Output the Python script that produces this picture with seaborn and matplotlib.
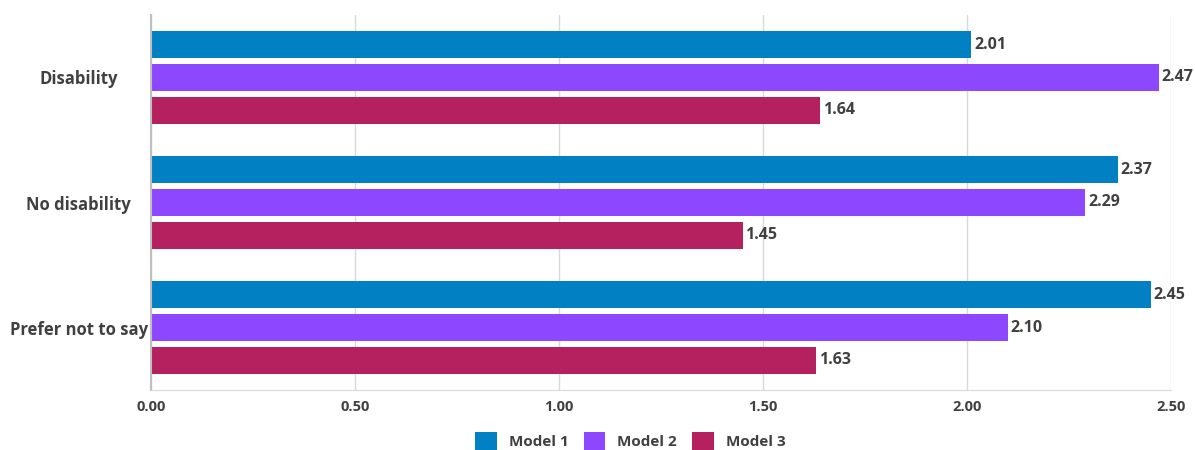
import pandas as pd
import seaborn as sns
import matplotlib.pyplot as plt

categories = ["Disability", "No disability", "Prefer not to say"]
models = ["Model 1", "Model 2", "Model 3"]
model1 = [2.01, 2.37, 2.45]
model2 = [2.47, 2.29, 2.10]
model3 = [1.64, 1.45, 1.63]
ticks = [0.0, 0.5, 1.0, 1.5, 2.0, 2.5]

colors = ["#0180C4", "#8C47FF", "#B5205E"]
text_color = "#404040"

rows = []
for name, vals in zip(models, [model1, model2, model3]):
    for cat, v in zip(categories, vals):
        rows.append({"Group": cat, "Model": name, "Value": v})
df = pd.DataFrame(rows)

sns.set_style("white")
plt.rcParams['font.family'] = ['Open Sans', 'DejaVu Sans']

fig = plt.figure(figsize=(11.95, 4.5), dpi=100)
ax = fig.add_axes([0.1264, 0.1333, 0.8536, 0.8334])

sns.barplot(data=df, y="Group", x="Value", hue="Model", orient="h",
            palette=colors, width=0.79, gap=0.18, saturation=1,
            linewidth=0, order=categories, hue_order=models, ax=ax)

for cont in ax.containers:
    ax.bar_label(cont, fmt="%.2f", padding=2, fontsize=11.5,
                 fontweight="bold", color=text_color)

ax.set_xlim(0, 2.5)
ax.set_xticks(ticks)
ax.set_xticklabels(["%.2f" % t for t in ticks], fontsize=10.5,
                   fontweight="bold", color=text_color)
ax.set_xlabel("")
ax.set_ylabel("")
ax.grid(axis="x", color="#d9d9d9", linewidth=1)
ax.set_axisbelow(True)
for s in ["top", "right"]:
    ax.spines[s].set_visible(False)
ax.spines["left"].set_color("#bfbfbf")
ax.spines["left"].set_linewidth(1.5)
ax.spines["bottom"].set_color("#d9d9d9")
ax.tick_params(axis="both", length=0)
ax.tick_params(axis="x", pad=7)
ax.tick_params(axis="y", pad=52)
for lab in ax.get_yticklabels():
    lab.set_horizontalalignment("center")
    lab.set_fontsize(12)
    lab.set_fontweight("bold")
    lab.set_color(text_color)

ax.legend(loc="upper center", bbox_to_anchor=(0.47, -0.075), ncol=3,
          frameon=False, handlelength=1.4, handleheight=1.4,
          handletextpad=0.8, columnspacing=1.0,
          prop={"size": 11, "weight": "bold"}, labelcolor=text_color)

fig.savefig("out.png", dpi=100)
